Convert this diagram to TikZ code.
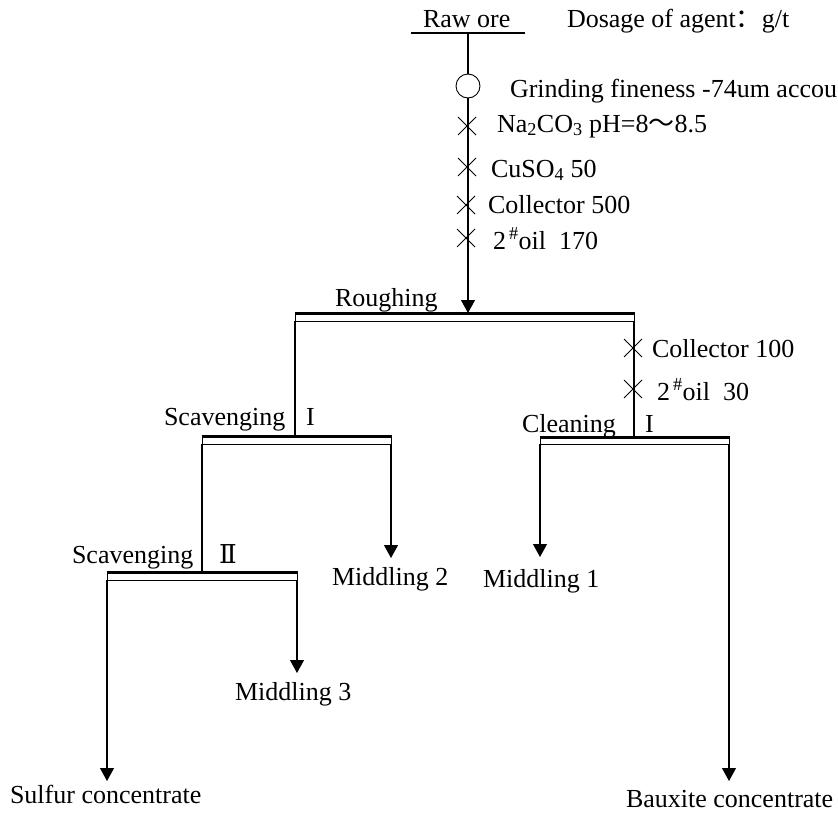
\documentclass[tikz,border=0pt]{standalone}
\usepackage{fontspec}
\setmainfont{Liberation Serif}
\newfontfamily\cjk{Noto Sans CJK SC}
\newfontfamily\dvs{DejaVu Serif}
\usetikzlibrary{arrows.meta,shapes.misc}
\begin{document}
\begin{tikzpicture}[x=1pt,y=-1pt,
  lbl/.style={anchor=base west,inner sep=0pt,outer sep=0pt,font=\fontsize{26}{30}\selectfont},
  flow/.style={line width=1.1pt},
  arr/.style={line width=1.1pt,-{Triangle[length=13pt,width=14pt]}},
  topbar/.style={line width=3pt},
  xmark/.style={draw,cross out,minimum size=18pt,inner sep=0pt,outer sep=0pt,line width=0.9pt},
  ]
\useasboundingbox (0,0) rectangle (838,814);
% texts
\node[lbl] (raw) at (423,27) {Raw ore};
\node[lbl] (dose) at (567,27) {Dosage of agent{\cjk ：}g/t};
\node[lbl] (grindt) at (510,97) {Grinding fineness -74um accou};
\node[lbl] (na) at (497,132) {Na\textsubscript{2}CO\textsubscript{3} pH=8{\cjk ～}8.5};
\node[lbl] (cu) at (491,177) {CuSO\textsubscript{4} 50};
\node[lbl] (col1) at (488,213) {Collector 500};
\node[lbl] (oil1) at (493,249) {2\textsuperscript{\,\#}oil\ \ 170};
\node[lbl] (rough) at (335,306) {Roughing};
\node[lbl] (col2) at (652,357) {Collector 100};
\node[lbl] (oil2) at (657,400) {2\textsuperscript{\,\#}oil\ \ 30};
\node[lbl] (scav1) at (164,425) {Scavenging};
\node[lbl] (scav1n) at (306,425) {I};
\node[lbl] (clean) at (522,432) {Cleaning};
\node[lbl] (cleann) at (645,432) {I};
\node[lbl] (scav2) at (72,563) {Scavenging};
\node[lbl] (scav2n) at (219,563) {{\dvs Ⅱ}};
\node[lbl] (mid2) at (332,585) {Middling 2};
\node[lbl] (mid1) at (483,587) {Middling 1};
\node[lbl] (mid3) at (235,700) {Middling 3};
\node[lbl] (sulf) at (10,803) {Sulfur concentrate};
\node[lbl] (baux) at (626,807) {Bauxite concentrate};
% raw ore line
\coordinate (rawL) at (411,33);
\coordinate (rawR) at (525,33);
\coordinate (rawM) at (468,33);
\draw[flow] (rawL) -- (rawR);
% grinding circle
\node[draw,circle,minimum size=24pt,inner sep=0pt,line width=0.9pt] (grind) at (468,86) {};
% bar coordinates
\coordinate (rL) at (295,313); \coordinate (rR) at (634,313);
\coordinate (rLb) at (295,321); \coordinate (rRb) at (634,321);
\coordinate (rIn) at (468,313);
\coordinate (s1L) at (202,436); \coordinate (s1R) at (391,436);
\coordinate (s1Lb) at (202,444); \coordinate (s1Rb) at (391,444);
\coordinate (s1In) at (295,436);
\coordinate (cL) at (540,437); \coordinate (cR) at (729,437);
\coordinate (cLb) at (540,444); \coordinate (cRb) at (729,444);
\coordinate (cIn) at (634,437);
\coordinate (s2L) at (107,572); \coordinate (s2R) at (297,572);
\coordinate (s2Lb) at (107,580); \coordinate (s2Rb) at (297,580);
\coordinate (s2In) at (202,572);
% arrow ends
\coordinate (t2) at (391,558);
\coordinate (t1) at (540,557);
\coordinate (t3) at (297,673);
\coordinate (ts) at (107,781);
\coordinate (tb) at (729,781);
% main feed line
\draw[flow] (rawM) -- (grind.north);
\draw[arr] (grind.south) -- (rIn);
% reagent crosses on feed
\node[xmark] (x1) at (467,126) {};
\node[xmark] (x2) at (467,167) {};
\node[xmark] (x3) at (466,205) {};
\node[xmark] (x4) at (466,238) {};
% bars
\foreach \a/\b/\c/\d in {rL/rR/rLb/rRb, s1L/s1R/s1Lb/s1Rb, cL/cR/cLb/cRb, s2L/s2R/s2Lb/s2Rb}{
  \draw[flow,line width=1pt] (\a) -- (\c) -- (\d) -- (\b);
  \draw[topbar] ([xshift=-0.5pt]\a) -- ([xshift=0.5pt]\b);
}
% flows between stages
\draw[flow] (rLb) -- (s1In);
\draw[flow] (rRb) -- (cIn);
\node[xmark] (x5) at (633,348) {};
\node[xmark] (x6) at (633,389) {};
\draw[flow] (s1Lb) -- (s2In);
\draw[arr] (s1Rb) -- (t2);
\draw[arr] (cLb) -- (t1);
\draw[arr] (s2Rb) -- (t3);
\draw[arr] (s2Lb) -- (ts);
\draw[arr] (cRb) -- (tb);
\end{tikzpicture}
\end{document}
